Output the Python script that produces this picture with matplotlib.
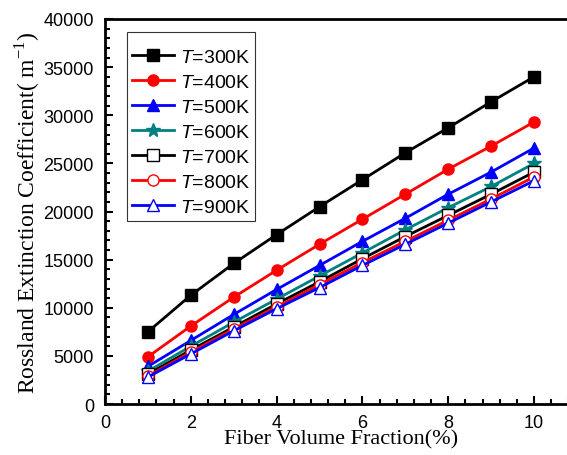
import matplotlib
matplotlib.use("Agg")
import matplotlib.pyplot as plt
from matplotlib.ticker import MultipleLocator

plt.rcParams["mathtext.fontset"] = "custom"
plt.rcParams["mathtext.it"] = "Liberation Sans:italic"
plt.rcParams["mathtext.rm"] = "Liberation Serif"

fraction = [1, 2, 3, 4, 5, 6, 7, 8, 9, 10]
temps = ["300K", "400K", "500K", "600K", "700K", "800K", "900K"]
k_300 = [7500, 11300, 14600, 17600, 20500, 23300, 26100, 28700, 31400, 34000]
k_400 = [4900, 8100, 11100, 13900, 16600, 19200, 21800, 24400, 26800, 29300]
k_500 = [3900, 6600, 9300, 11900, 14400, 16900, 19300, 21800, 24100, 26600]
k_600 = [3400, 6000, 8500, 10900, 13300, 15700, 18100, 20400, 22600, 25000]
k_700 = [3100, 5600, 8000, 10400, 12700, 15100, 17400, 19600, 21800, 24100]
k_800 = [2900, 5400, 7800, 10100, 12400, 14700, 16900, 19100, 21300, 23600]
k_900 = [2800, 5200, 7600, 9900, 12100, 14400, 16600, 18800, 21000, 23200]

series = [k_300, k_400, k_500, k_600, k_700, k_800, k_900]
colors = ["black", "#ff0000", "#0000ff", "#008080", "black", "#ff0000", "#0000ff"]
markers = ["s", "o", "^", "*", "s", "o", "^"]
filled = [True, True, True, True, False, False, False]

fig = plt.figure(figsize=(5.67, 4.56), dpi=100)
ax = fig.add_axes([105 / 567, 1 - 405 / 456, 472 / 567, 385 / 456])

for vals, t, c, m, f in zip(series, temps, colors, markers, filled):
    ms = 10 if m == "*" else 8
    ax.plot(fraction, vals, color=c, marker=m, markersize=ms, linewidth=2.0,
            markerfacecolor=c if f else "white", markeredgecolor=c,
            markeredgewidth=1.0, label=r"$\it{T}$=" + t)

ax.set_xlim(0, 11)
ax.set_ylim(0, 40000)
ax.xaxis.set_major_locator(MultipleLocator(2))
ax.xaxis.set_minor_locator(MultipleLocator(0.4))
ax.yaxis.set_major_locator(MultipleLocator(5000))
ax.yaxis.set_minor_locator(MultipleLocator(1000))
ax.tick_params(which="both", direction="in", width=1.5, top=False, right=False)
ax.tick_params(which="major", length=6)
ax.tick_params(which="minor", length=3.5)
ax.tick_params(axis="x", which="major", pad=7)
ax.tick_params(axis="y", which="major", pad=8)
for s in ax.spines.values():
    s.set_linewidth(2)

for lab in ax.get_xticklabels() + ax.get_yticklabels():
    lab.set_fontfamily("Liberation Sans")
    lab.set_fontsize(13)

ax.set_xlabel("Fiber Volume Fraction(%)", fontfamily="Liberation Serif", fontsize=16, labelpad=-1)
ax.set_ylabel(r"Rossland Extinction Coefficient( m$^{\mathregular{-1}}$)",
              fontfamily="Liberation Serif", fontsize=17, labelpad=1)

# blank tiny title gives the extra room above the first entry, as in the original
leg = ax.legend(loc="upper left", bbox_to_anchor=(22 / 472, 372 / 385),
                prop={"family": "Liberation Sans", "size": 14}, borderaxespad=0,
                title=" ", title_fontsize=3,
                frameon=True, fancybox=False, edgecolor="black",
                handlelength=2.15, labelspacing=0.38, borderpad=0.25, handletextpad=0.3)
leg.get_frame().set_linewidth(0.8)

fig.savefig("out.png", dpi=100)
